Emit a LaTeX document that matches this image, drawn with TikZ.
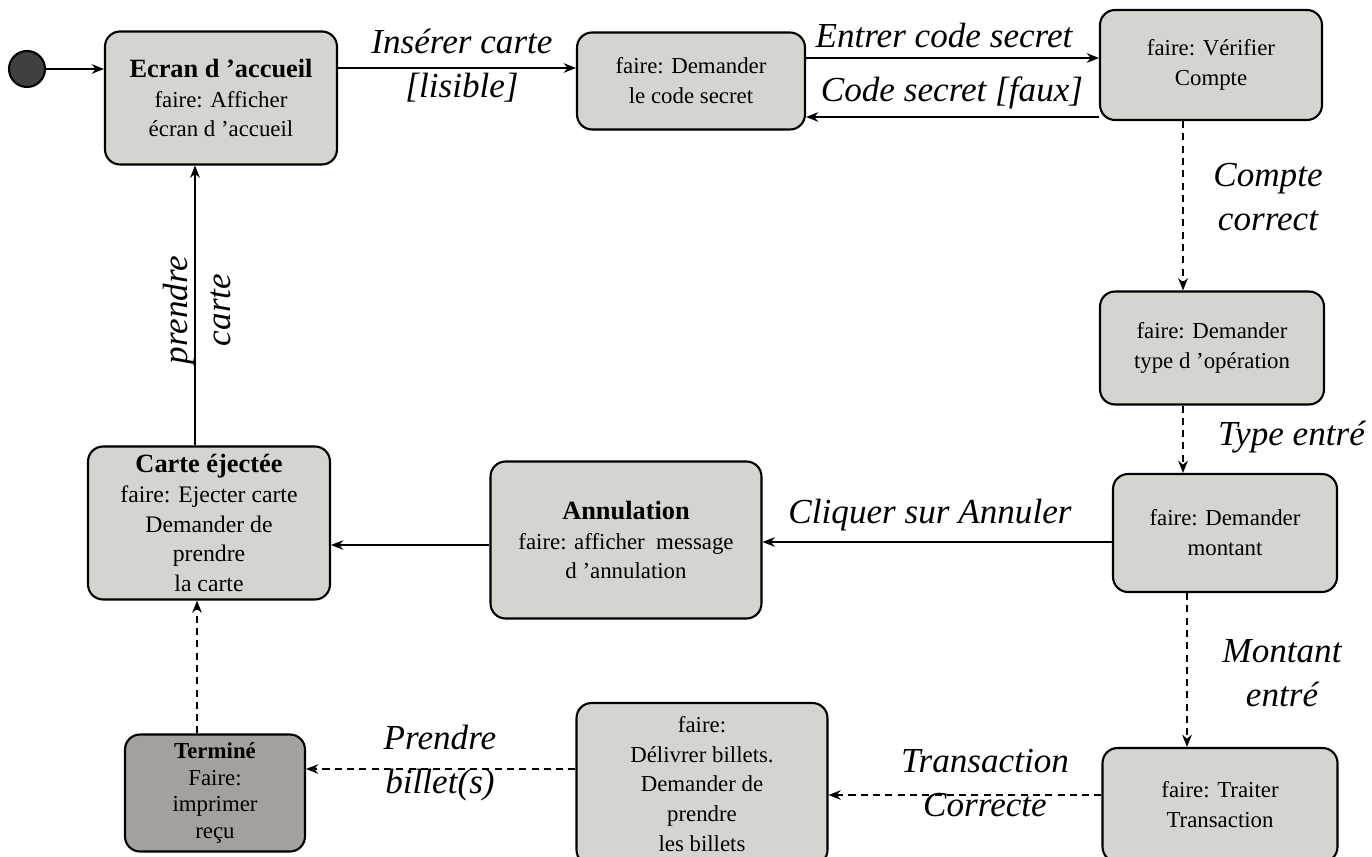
\documentclass[tikz,border=0pt]{standalone}
\usepackage{fontspec}
\setmainfont{Liberation Serif}
\usetikzlibrary{arrows.meta}
\definecolor{boxgray}{RGB}{214,212,207}
\definecolor{endgray}{RGB}{165,160,155}
\begin{document}
\begin{tikzpicture}[>={Stealth[length=7pt,width=5.5pt]}, x=0.02cm, y=-0.02cm,
    etat/.style={draw, line width=1.2pt, rounded corners=0.3cm, fill=boxgray, align=center,
      inner sep=0pt, font=\fontsize{13}{17}\selectfont},
    lbl/.style={font=\itshape\fontsize{20}{25}\selectfont, align=center},
    trans/.style={thick, ->},
    garde/.style={thick, ->, dash pattern=on 4pt off 3pt}]
    \useasboundingbox[fill=white] (0,0) rectangle (1372,857);

    % etats
    \node[circle, draw, line width=1.2pt, fill=black!75, minimum size=0.72cm, inner sep=0pt]
        (init) at (27,69) {};
    \node[etat, minimum width=4.64cm, minimum height=2.66cm]
        (accueil) at (221,98) {{\bfseries\fontsize{15}{17}\selectfont Ecran d 'accueil}\\faire: Afficher\\écran d 'accueil};
    \node[etat, minimum width=4.56cm, minimum height=1.94cm]
        (code) at (691,81) {faire: Demander\\le code secret};
    \node[etat, minimum width=4.44cm, minimum height=2.2cm]
        (verif) at (1211,65) {faire: Vérifier\\Compte};
    \node[etat, minimum width=4.48cm, minimum height=2.26cm]
        (type) at (1212,348) {faire: Demander\\type d 'opération};
    \node[etat, minimum width=4.48cm, minimum height=2.36cm]
        (montant) at (1225,533) {faire: Demander\\montant};
    \node[etat, minimum width=4.7cm, minimum height=2.28cm]
        (traiter) at (1220,805) {faire: Traiter\\Transaction};
    \node[etat, minimum width=5.02cm, minimum height=3.24cm]
        (billets) at (702,784) {faire:\\Délivrer billets.\\Demander de\\prendre\\les billets};
    \node[etat, fill=endgray, minimum width=3.6cm, minimum height=2.34cm, font=\fontsize{13}{15}\selectfont]
        (termine) at (215,793) {\textbf{Terminé}\\Faire:\\imprimer\\reçu};
    \node[etat, minimum width=4.84cm, minimum height=3.06cm, font=\fontsize{13.5}{17}\selectfont]
        (carte) at (209,523) {{\bfseries\fontsize{15}{17}\selectfont Carte éjectée}\\faire: Ejecter carte\\Demander de\\prendre\\la carte};
    \node[etat, minimum width=5.42cm, minimum height=3.14cm]
        (annul) at (626,540) {{\bfseries\fontsize{15}{17}\selectfont Annulation}\\faire: afficher\ \ message\\d 'annulation};

    % transitions
    \draw[trans] (init.east) -- (init.east -| accueil.west);
    \draw[trans] ([yshift=0.26cm]code.west -| accueil.east) -- ([yshift=0.26cm]code.west);
    \draw[trans] ([yshift=0.46cm]code.east) -- ([yshift=0.46cm]code.east -| verif.west);
    \draw[trans] ([yshift=-0.72cm]code.east -| verif.west) -- ([yshift=-0.72cm]code.east);
    \draw[garde] ([xshift=-0.56cm]verif.south) -- ([xshift=-0.56cm]verif.south |- type.north);
    \draw[garde] ([xshift=-0.58cm]type.south) -- ([xshift=-0.58cm]type.south |- montant.north);
    \draw[garde] ([xshift=-0.76cm]montant.south) -- ([xshift=-0.76cm]montant.south |- traiter.north);
    \draw[trans] ([yshift=-0.18cm]montant.west) -- ([yshift=-0.18cm]montant.west -| annul.east);
    \draw[trans] ([yshift=-0.1cm]annul.west) -- ([yshift=-0.1cm]annul.west -| carte.east);
    \draw[trans] ([xshift=-0.28cm]carte.north) -- ([xshift=-0.28cm]carte.north |- accueil.south);
    \draw[garde] ([yshift=0.2cm]traiter.west) -- ([yshift=0.2cm]traiter.west -| billets.east);
    \draw[garde] ([yshift=0.3cm]billets.west) -- ([yshift=0.3cm]billets.west -| termine.east);
    \draw[garde] ([xshift=-0.36cm]termine.north) -- ([xshift=-0.36cm]termine.north |- carte.south);

    % etiquettes
    \node[lbl] (lInserer) at (462,66) {Insérer carte\\{}[lisible]};
    \node[lbl] (lEntrer) at (944,35) {Entrer code secret};
    \node[lbl] (lFaux) at (952,93) {Code secret [faux]};
    \node[lbl] (lCompte) at (1268,197) {Compte\\correct};
    \node[lbl, anchor=west] (lType) at (1212,437) {Type entré};
    \node[lbl] (lAnnuler) at (930,515) {Cliquer sur Annuler};
    \node[lbl] (lMontant) at (1282,673) {Montant\\entré};
    \node[lbl] (lTransaction) at (985,783) {Transaction\\Correcte};
    \node[lbl] (lPrendre) at (440,763) {Prendre\\billet(s)};
    \node[lbl, rotate=90] (lCarte) at (197,310) {prendre\\carte};
\end{tikzpicture}
\end{document}
